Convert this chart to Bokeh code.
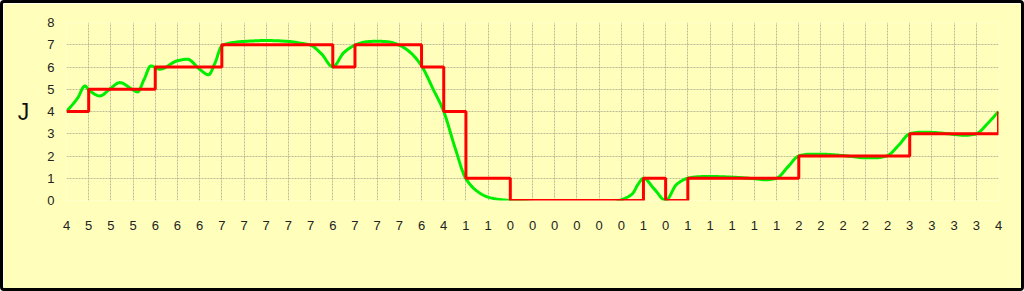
import numpy as np
from bokeh.plotting import figure
from bokeh.models import Range1d, FixedTicker
from bokeh.embed import file_html
from bokeh.resources import INLINE

# Step series (J) and its tick labels
j_values = [4, 5, 5, 5, 6, 6, 6, 7, 7, 7, 7, 7, 6, 7, 7, 7, 6, 4, 1, 1, 0,
            0, 0, 0, 0, 0, 1, 0, 1, 1, 1, 1, 1, 2, 2, 2, 2, 2, 3, 3, 3, 3, 4]
x_index = list(range(len(j_values)))
x_tick_labels = [str(v) for v in j_values]
y_ticks = [0, 1, 2, 3, 4, 5, 6, 7, 8]

# Smooth (green) series
green_x = [0, 0.5, 0.83, 1, 1.5, 2, 2.4, 3, 3.2, 3.5, 3.8, 4.2, 5, 5.45, 6, 6.4,
           6.7, 7, 7.5, 8, 9, 10, 10.5, 11, 11.5, 12, 12.5, 13, 13.5, 14, 14.5,
           15, 15.5, 16, 16.5, 17, 17.5, 18, 18.5, 19, 19.5, 20, 21, 22, 23, 24,
           24.5, 25, 25.5, 25.75, 26, 26.5, 27, 27.5, 28, 28.5, 29, 30, 31, 31.5,
           32, 32.5, 33, 33.5, 34, 35, 36, 36.5, 37, 37.5, 38, 38.5, 39, 40, 40.5,
           41, 41.5, 42]
green_y = [4.0, 4.6, 5.15, 4.97, 4.70, 5.05, 5.3, 4.97, 4.88, 5.45, 6.05, 5.9, 6.28,
           6.35, 5.9, 5.65, 6.2, 6.95, 7.1, 7.15, 7.19, 7.15, 7.08, 6.98, 6.58, 6.0,
           6.65, 6.98, 7.13, 7.16, 7.13, 6.98, 6.65, 6.05, 5.05, 4.0, 2.4, 0.98, 0.42,
           0.15, 0.05, 0.0, -0.08, -0.16, -0.22, -0.22, -0.15, 0.03, 0.3, 0.72, 1.0, 0.5,
           0.0, 0.73, 1.0, 1.07, 1.08, 1.05, 0.98, 0.93, 1.0, 1.5, 2.0, 2.08, 2.08,
           2.02, 1.92, 1.92, 2.02, 2.48, 3.0, 3.07, 3.06, 2.97, 2.93, 3.0, 3.45, 4.0]


def pchip(xs, ys, per=12):
    xs = np.asarray(xs, float)
    ys = np.asarray(ys, float)
    h = np.diff(xs)
    d = np.diff(ys) / h
    m = np.zeros_like(ys)
    for k in range(1, len(xs) - 1):
        if d[k - 1] * d[k] > 0:
            w1 = 2 * h[k] + h[k - 1]
            w2 = h[k] + 2 * h[k - 1]
            m[k] = (w1 + w2) / (w1 / d[k - 1] + w2 / d[k])
    m[0] = d[0]
    m[-1] = d[-1]
    ox, oy = [], []
    for k in range(len(xs) - 1):
        for t in np.linspace(0, 1, per, endpoint=False):
            h00 = 2 * t**3 - 3 * t**2 + 1
            h10 = t**3 - 2 * t**2 + t
            h01 = -2 * t**3 + 3 * t**2
            h11 = t**3 - t**2
            ox.append(xs[k] + t * h[k])
            oy.append(h00 * ys[k] + h10 * h[k] * m[k] + h01 * ys[k + 1] + h11 * h[k] * m[k + 1])
    ox.append(xs[-1])
    oy.append(ys[-1])
    return ox, oy


sx, sy = pchip(green_x, green_y)

p = figure(width=1024, height=291, output_backend="svg", toolbar_location=None,
           x_range=Range1d(0, len(j_values) - 1), y_range=Range1d(0, 8),
           min_border_left=63, min_border_right=29, min_border_top=19, min_border_bottom=94)
p.styles = {"border": "3px solid black", "border-radius": "4px", "box-sizing": "border-box"}
p.background_fill_color = "#FFFFBB"
p.border_fill_color = "#FFFFBB"
p.outline_line_color = None

for ax in (p.xaxis[0], p.yaxis[0]):
    ax.axis_line_color = None
    ax.major_tick_line_color = None
    ax.minor_tick_line_color = None
    ax.major_label_text_font = "Liberation Sans"
    ax.major_label_text_font_size = "13px"
    ax.major_label_text_color = "#222222"

p.xaxis[0].ticker = FixedTicker(ticks=x_index)
p.xaxis[0].major_label_overrides = {i: s for i, s in enumerate(x_tick_labels)}
p.xaxis[0].major_label_standoff = 14

p.yaxis[0].ticker = FixedTicker(ticks=y_ticks)
p.yaxis[0].major_label_standoff = 6
p.yaxis[0].axis_label = "J"
p.yaxis[0].axis_label_orientation = "horizontal"
p.yaxis[0].axis_label_text_font = "Liberation Sans"
p.yaxis[0].axis_label_text_font_style = "normal"
p.yaxis[0].axis_label_text_font_size = "23px"
p.yaxis[0].axis_label_text_color = "#111111"
p.yaxis[0].axis_label_standoff = 15

for g in (p.xgrid[0], p.ygrid[0]):
    g.grid_line_color = "#aaaa90"
    g.grid_line_dash = "2 1"
    g.grid_line_width = 1
    g.grid_line_alpha = 0.8
p.xgrid[0].ticker = FixedTicker(ticks=x_index)
p.ygrid[0].ticker = FixedTicker(ticks=y_ticks)

p.line(sx, sy, line_color="#00EE00", line_width=3)
p.step(x_index, j_values, mode="after", line_color="#FF0000", line_width=3)

open("out.html", "w").write(file_html(p, INLINE))
